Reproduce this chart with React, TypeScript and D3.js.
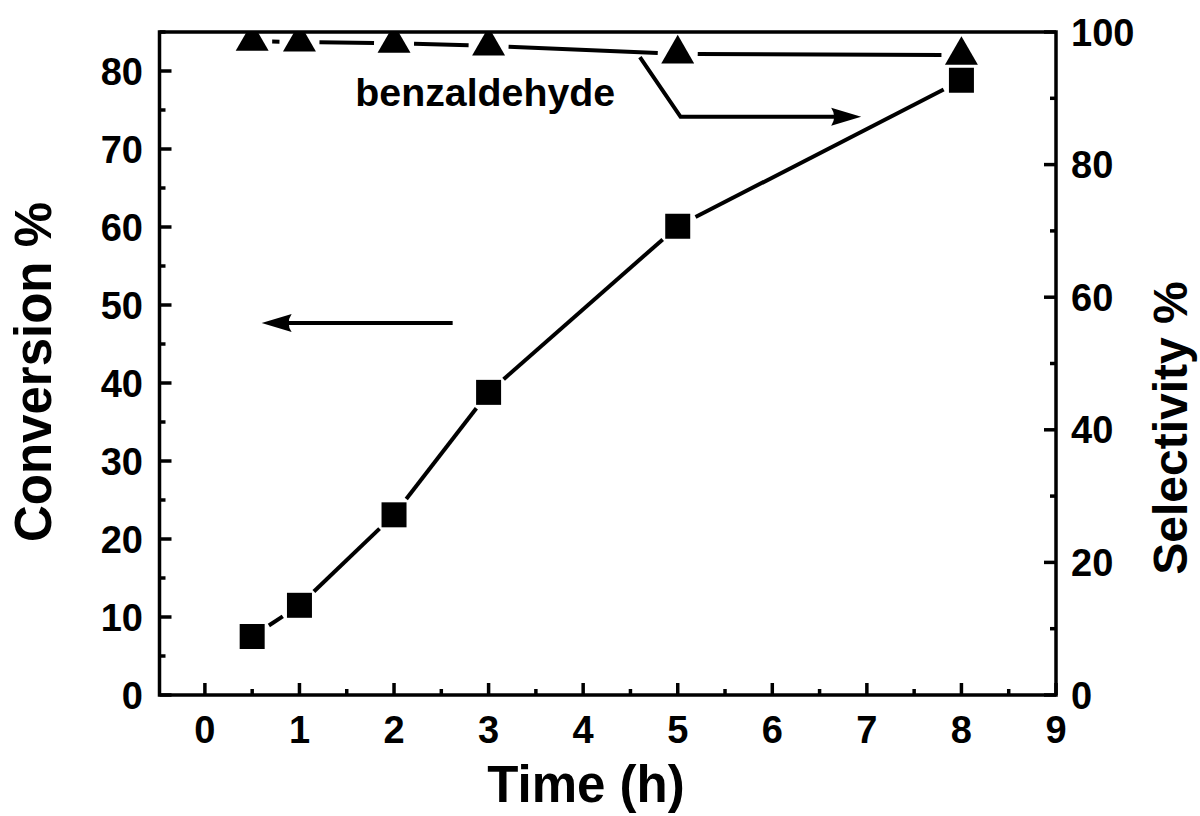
import React, { useEffect, useRef } from "react";
import * as d3 from "d3";

// reaction time (h)
const timeHours = [0.5, 1, 2, 3, 5, 8];
// conversion %, left axis (squares)
const conversion = [7.5, 11.5, 23.1, 38.8, 60.1, 78.8];
// benzaldehyde selectivity %, right axis (triangles)
const selectivity = [98.6, 98.5, 98.3, 97.9, 96.7, 96.5];

const xTicks = [0, 1, 2, 3, 4, 5, 6, 7, 8, 9];
const leftTicks = [0, 10, 20, 30, 40, 50, 60, 70, 80];
const rightTicks = [0, 20, 40, 60, 80, 100];

const FONT = "'Liberation Sans', Arial, sans-serif";

export default function App() {
  const svgRef = useRef<SVGSVGElement>(null);

  useEffect(() => {
    const svg = d3.select(svgRef.current);
    svg.selectAll("*").remove();

    const left = 159.5;
    const right = 1056;
    const top = 32;
    const bottom = 695;

    const x = d3.scaleLinear().domain([-0.48, 9]).range([left, right]);
    const yL = d3.scaleLinear().domain([0, 85]).range([bottom, top]);
    const yR = d3.scaleLinear().domain([0, 100]).range([bottom, top]);

    svg
      .append("defs")
      .append("clipPath")
      .attr("id", "plot-clip")
      .append("rect")
      .attr("x", left)
      .attr("y", top)
      .attr("width", right - left)
      .attr("height", bottom - top);

    // line segments with gaps round the symbols (Origin style)
    const gap = 20;
    const drawGapLine = (pts: [number, number][]) => {
      const g = svg.append("g").attr("clip-path", "url(#plot-clip)");
      for (let i = 0; i < pts.length - 1; i++) {
        const [x1, y1] = pts[i];
        const [x2, y2] = pts[i + 1];
        const len = Math.hypot(x2 - x1, y2 - y1);
        if (len <= gap * 2) continue;
        const ux = (x2 - x1) / len;
        const uy = (y2 - y1) / len;
        g.append("line")
          .attr("x1", x1 + ux * gap)
          .attr("y1", y1 + uy * gap)
          .attr("x2", x2 - ux * gap)
          .attr("y2", y2 - uy * gap)
          .attr("stroke", "#000")
          .attr("stroke-width", 4);
      }
    };

    const convPts: [number, number][] = timeHours.map((t, i) => [x(t), yL(conversion[i])]);
    const selPts: [number, number][] = timeHours.map((t, i) => [x(t), yR(selectivity[i])]);
    drawGapLine(convPts);
    drawGapLine(selPts);

    const marks = svg.append("g").attr("clip-path", "url(#plot-clip)");
    marks
      .selectAll("path.sq")
      .data(convPts)
      .enter()
      .append("path")
      .attr("class", "sq")
      .attr("d", d3.symbol(d3.symbolSquare, 625)())
      .attr("transform", (d) => `translate(${d[0]},${d[1]})`)
      .attr("fill", "#000");
    marks
      .selectAll("path.tri")
      .data(selPts)
      .enter()
      .append("path")
      .attr("class", "tri")
      .attr("d", d3.symbol(d3.symbolTriangle, 470)())
      .attr("transform", (d) => `translate(${d[0]},${d[1]})`)
      .attr("fill", "#000");

    // frame
    svg
      .append("rect")
      .attr("x", left)
      .attr("y", top)
      .attr("width", right - left)
      .attr("height", bottom - top)
      .attr("fill", "none")
      .attr("stroke", "#000")
      .attr("stroke-width", 3.5);

    const ticks = svg.append("g").attr("stroke", "#000").attr("stroke-width", 3.5);

    // bottom ticks, inward
    xTicks.forEach((t) => {
      ticks.append("line").attr("x1", x(t)).attr("x2", x(t)).attr("y1", bottom).attr("y2", bottom - 12);
      if (t < 9)
        ticks
          .append("line")
          .attr("x1", x(t + 0.5))
          .attr("x2", x(t + 0.5))
          .attr("y1", bottom)
          .attr("y2", bottom - 6);
    });
    // left ticks
    leftTicks.forEach((t) => {
      ticks.append("line").attr("x1", left).attr("x2", left + 12).attr("y1", yL(t)).attr("y2", yL(t));
      ticks
        .append("line")
        .attr("x1", left)
        .attr("x2", left + 6)
        .attr("y1", yL(t + 5))
        .attr("y2", yL(t + 5));
    });
    // right ticks
    rightTicks.forEach((t) => {
      ticks.append("line").attr("x1", right).attr("x2", right - 12).attr("y1", yR(t)).attr("y2", yR(t));
      if (t < 100)
        ticks
          .append("line")
          .attr("x1", right)
          .attr("x2", right - 6)
          .attr("y1", yR(t + 10))
          .attr("y2", yR(t + 10));
    });

    const txt = svg
      .append("g")
      .attr("font-family", FONT)
      .attr("font-weight", "bold")
      .attr("fill", "#000");

    txt
      .selectAll("text.xt")
      .data(xTicks)
      .enter()
      .append("text")
      .attr("x", (d) => x(d))
      .attr("y", 743)
      .attr("text-anchor", "middle")
      .attr("font-size", 38)
      .text((d) => d);

    txt
      .selectAll("text.yl")
      .data(leftTicks)
      .enter()
      .append("text")
      .attr("x", 143)
      .attr("y", (d) => yL(d) + 13.5)
      .attr("text-anchor", "end")
      .attr("font-size", 38)
      .text((d) => d);

    txt
      .selectAll("text.yr")
      .data(rightTicks)
      .enter()
      .append("text")
      .attr("x", 1071)
      .attr("y", (d) => yR(d) + 13.5)
      .attr("text-anchor", "start")
      .attr("font-size", 38)
      .text((d) => d);

    txt
      .append("text")
      .attr("x", 586)
      .attr("y", 802)
      .attr("text-anchor", "middle")
      .attr("font-size", 51)
      .text("Time (h)");

    txt
      .append("text")
      .attr("transform", `translate(51,372) rotate(-90)`)
      .attr("text-anchor", "middle")
      .attr("font-size", 51)
      .text("Conversion %");

    txt
      .append("text")
      .attr("transform", `translate(1187,428) rotate(-90)`)
      .attr("text-anchor", "middle")
      .attr("font-size", 48)
      .text("Selectivity %");

    txt
      .append("text")
      .attr("x", x(1.59))
      .attr("y", yL(75.5))
      .attr("font-size", 38)
      .attr("textLength", 260)
      .attr("lengthAdjust", "spacingAndGlyphs")
      .text("benzaldehyde");

    // arrows
    const arrowHead = (tipX: number, tipY: number, dir: number) => {
      const len = 30;
      const half = 9;
      svg
        .append("path")
        .attr(
          "d",
          `M${tipX},${tipY} L${tipX - dir * len},${tipY - half} Q${tipX - dir * (len - 6)},${tipY} ${tipX - dir * len},${tipY + half} Z`
        )
        .attr("fill", "#000");
    };

    const ay = yL(47.7);
    svg
      .append("line")
      .attr("x1", x(2.62))
      .attr("y1", ay)
      .attr("x2", x(0.6) + 20)
      .attr("y2", ay)
      .attr("stroke", "#000")
      .attr("stroke-width", 4);
    arrowHead(x(0.6), ay, -1);

    const ry = yR(87.2);
    svg
      .append("path")
      .attr("d", `M${x(4.6)},${yR(96.2)} L${x(5.03)},${ry} L${x(6.94) - 20},${ry}`)
      .attr("fill", "none")
      .attr("stroke", "#000")
      .attr("stroke-width", 4);
    arrowHead(x(6.94), ry, 1);
  }, []);

  return (
    <svg
      ref={svgRef}
      width={1200}
      height={816}
      style={{ position: "absolute", left: 0, top: 0, background: "#fff" }}
    />
  );
}
